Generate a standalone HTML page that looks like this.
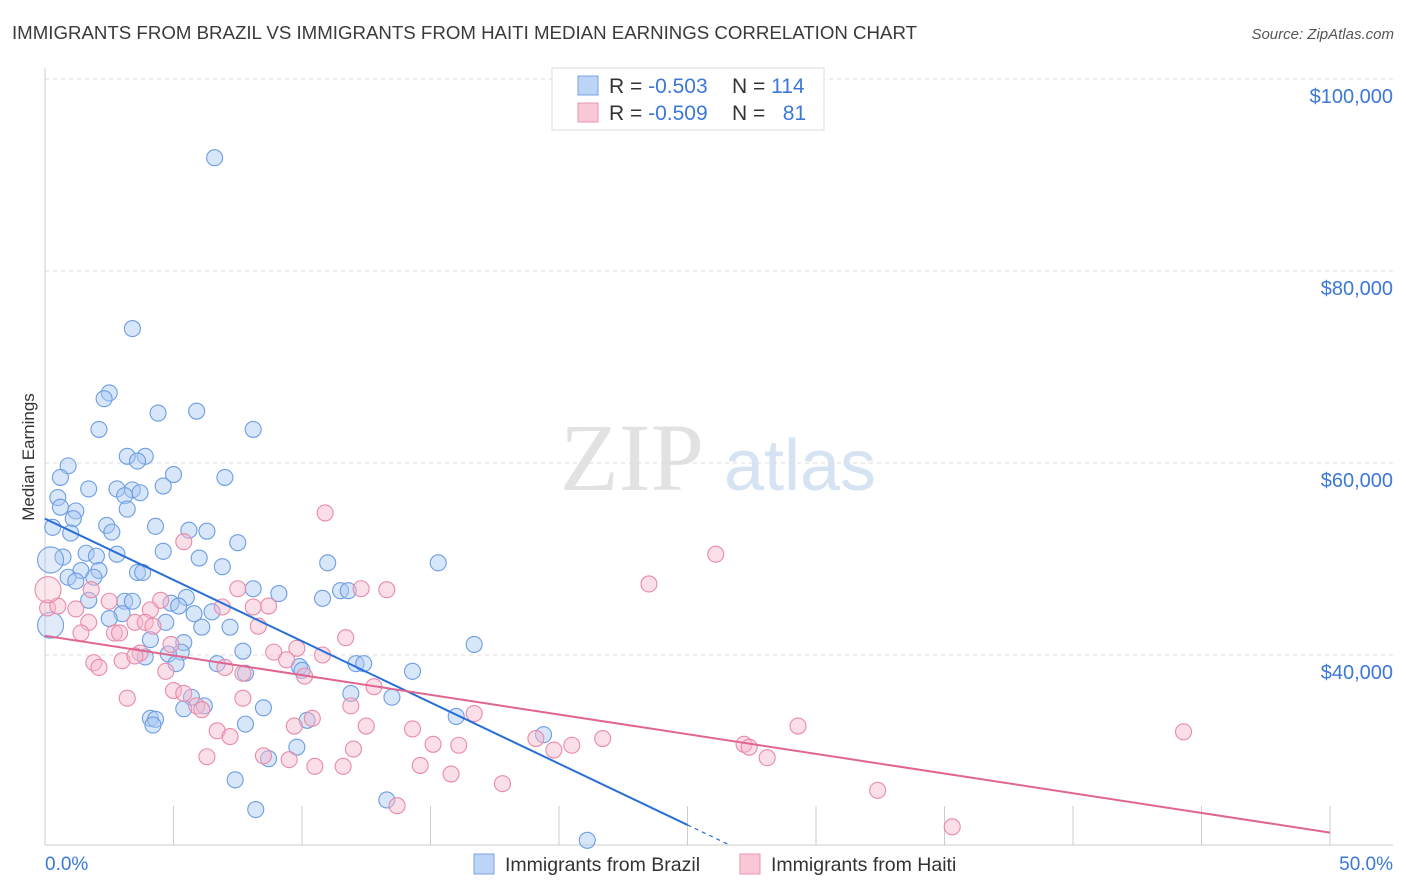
<!DOCTYPE html>
<html><head><meta charset="utf-8"><style>
body{margin:0;background:#fff;font-family:"Liberation Sans",sans-serif;}
svg{display:block}
</style></head><body>
<svg id="chart" width="1406" height="892">
<text x="12" y="39" font-size="18" fill="#3a3a3a" textLength="905" lengthAdjust="spacingAndGlyphs">IMMIGRANTS FROM BRAZIL VS IMMIGRANTS FROM HAITI MEDIAN EARNINGS CORRELATION CHART</text>
<text x="1394" y="39" font-size="15" font-style="italic" fill="#555" text-anchor="end">Source: ZipAtlas.com</text>
<text x="34" y="457" font-size="17" fill="#333" text-anchor="middle" transform="rotate(-90 34 457)">Median Earnings</text>
<g>
<text x="632" y="490" font-size="96" font-family="Liberation Serif,serif" fill="#e2e2e2" text-anchor="middle">ZIP</text>
<text x="800" y="490" font-size="72" fill="#d6e3f3" text-anchor="middle">atlas</text>
</g>
<g id="grid"></g><g id="axes"></g><g id="pts"></g><g id="trends"></g>
<g>
<rect x="552" y="68" width="272" height="62" fill="#fff" stroke="#ddd"/>
<rect x="578" y="76" width="20" height="19" fill="#bcd4f6" stroke="#7aa6e6"/>
<rect x="578" y="103" width="20" height="19" fill="#f9c8d6" stroke="#eb93ad"/>
<text x="609" y="93" font-size="21" fill="#333">R = <tspan fill="#3b78d8">-0.503</tspan></text>
<text x="732" y="93" font-size="21" fill="#333">N = <tspan fill="#3b78d8">114</tspan></text>
<text x="609" y="120" font-size="21" fill="#333">R = <tspan fill="#3b78d8">-0.509</tspan></text>
<text x="732" y="120" font-size="21" fill="#333">N = <tspan fill="#3b78d8">&#160; 81</tspan></text>
</g>
<g>
<rect x="474" y="854" width="20" height="20" fill="#bcd4f6" stroke="#7aa6e6"/>
<text x="505" y="871" font-size="19.5" fill="#333">Immigrants from Brazil</text>
<rect x="740" y="854" width="20" height="20" fill="#f9c8d6" stroke="#eb93ad"/>
<text x="771" y="871" font-size="19.5" fill="#333">Immigrants from Haiti</text>
</g>
</svg>
<script>
const yTicks=[40000,60000,80000,100000];
const yTickLabels=["$40,000","$60,000","$80,000","$100,000"];
const xTicks=[0,5,10,15,20,25,30,35,40,45,50];
const brazilX=[6.6,3.4,2.5,2.3,5.9,4.4,8.1,2.1,3.2,3.9,3.6,0.9,5.0,7.0,0.6,1.7,2.8,4.6,3.4,0.5,3.1,3.7,0.6,1.2,3.2,1.1,0.3,2.4,4.3,5.6,6.3,2.6,1.0,7.5,4.6,0.7,1.6,2.0,2.8,6.0,11.0,15.3,6.9,1.4,2.1,3.6,3.8,0.9,1.9,1.2,8.1,9.1,3.1,3.4,1.7,4.9,10.8,11.5,11.8,5.5,5.2,6.5,5.8,3.0,2.5,4.7,6.1,7.2,4.1,5.4,16.7,5.3,4.8,7.7,3.9,5.1,6.7,12.1,12.4,9.9,10.0,14.3,7.8,11.9,13.5,5.7,5.4,6.2,8.5,16.0,4.1,4.3,4.2,10.2,7.8,19.4,9.8,8.7,7.4,13.3,8.2,21.1,0.1,0.1];
const brazilY=[91.8,74.0,67.3,66.7,65.4,65.2,63.5,63.5,60.7,60.7,60.2,59.7,58.8,58.5,58.5,57.3,57.3,57.6,57.2,56.4,56.6,56.9,55.4,55.0,55.2,54.2,53.3,53.5,53.4,53.0,52.9,52.8,52.7,51.7,50.8,50.2,50.6,50.3,50.5,50.1,49.6,49.6,49.2,48.8,48.8,48.6,48.6,48.1,48.1,47.7,46.9,46.4,45.6,45.6,45.7,45.4,45.9,46.7,46.7,46.0,45.1,44.5,44.3,44.3,43.8,43.4,42.9,42.9,41.6,41.3,41.1,40.3,40.1,40.4,39.8,39.1,39.1,39.1,39.1,38.8,38.4,38.3,38.1,36.0,35.6,35.6,34.4,34.7,34.5,33.6,33.4,33.3,32.7,33.2,32.8,31.7,30.4,29.2,27.0,24.9,23.9,20.7,49.9,43.1];
const haitiX=[10.9,5.4,26.1,23.5,1.8,7.5,12.3,13.3,2.5,4.5,8.7,0.1,0.5,1.2,4.1,8.1,6.9,1.7,3.5,3.9,4.2,8.3,11.7,1.4,2.7,2.9,4.9,9.8,3.7,8.9,10.8,1.9,2.1,3.0,3.5,7.0,9.4,4.7,7.7,10.1,12.8,3.2,5.0,5.4,7.7,11.9,5.9,6.1,16.7,10.4,9.7,12.5,14.3,6.7,7.2,29.3,44.3,19.1,21.7,15.1,16.1,19.8,20.5,27.2,27.4,6.3,8.5,9.5,12.0,28.1,10.5,11.6,14.6,15.8,17.8,13.7,32.4,35.3,0.0];
const haitiY=[54.8,51.8,50.5,47.4,46.8,46.9,46.9,46.8,45.6,45.7,45.1,44.9,45.1,44.8,44.7,45.0,45.0,43.4,43.4,43.4,43.0,43.0,41.8,42.3,42.3,42.3,41.1,40.7,40.2,40.3,40.0,39.2,38.7,39.4,39.9,38.7,39.5,38.3,38.1,37.8,36.7,35.5,36.3,36.0,35.5,34.7,34.7,34.3,33.9,33.4,32.6,32.6,32.3,32.1,31.5,32.6,32.0,31.3,31.3,30.7,30.6,30.1,30.6,30.7,30.4,29.4,29.5,29.1,30.2,29.3,28.4,28.4,28.5,27.6,26.6,24.3,25.9,22.1,46.8];
const brazilTrendX=[0,25];const brazilTrendY=[54.2,22.3];
const haitiTrendX=[0,50];const haitiTrendY=[42.0,21.5];
const NS='http://www.w3.org/2000/svg';
const X0=45,X1=1330,YB=1039,PPK=9.6;
const sx=v=>X0+(v/50)*(X1-X0);
const sy=k=>YB-k*PPK;
function mk(t,a,p){const e=document.createElementNS(NS,t);for(const k in a)e.setAttribute(k,a[k]);p.appendChild(e);return e;}
const grid=document.getElementById('grid'),axes=document.getElementById('axes'),pts=document.getElementById('pts'),tr=document.getElementById('trends');
yTicks.forEach((v,i)=>{const y=sy(v/1000);
const l=mk('line',{x1:45,x2:1393,y1:y,y2:y,stroke:'#ddd','stroke-dasharray':'4,4'},grid);


const t=mk('text',{x:1393,y:y+24,'font-size':20,fill:'#3b78d8','text-anchor':'end'},axes);t.textContent=yTickLabels[i];

});
const ax=mk('line',{x1:45,x2:45,y1:68,y2:845,stroke:'#ccc'},axes);


const bx=mk('line',{x1:45,x2:1393,y1:845,y2:845,stroke:'#ccc'},axes);


xTicks.slice(1).forEach(v=>{const tk=mk('line',{x1:sx(v),x2:sx(v),y1:806,y2:845,stroke:'#ccc'},axes);

});
const xl0=mk('text',{x:45,y:870,'font-size':19,fill:'#3b78d8'},axes);xl0.textContent='0.0%';


const xl1=mk('text',{x:1393,y:870,'font-size':19,fill:'#3b78d8','text-anchor':'end'},axes);xl1.textContent='50.0%';


function dots(xs,ys,fill,stroke,name){xs.forEach((x,i)=>{const big=(x<=0.15&&(i>=xs.length-2));
const c=mk('circle',{cx:big?sx(x)+3:sx(x),cy:sy(ys[i]),r:big?13:8,fill:fill,'fill-opacity':big?0.35:0.45,stroke:stroke,'stroke-width':1.1},pts);

});}
dots(brazilX,brazilY,'#a9c7f2','#6d9de3','brazil-point');
dots(haitiX,haitiY,'#f7b9cc','#e98aa8','haiti-point');
const ba=mk('line',{x1:sx(brazilTrendX[0]),y1:sy(brazilTrendY[0]),x2:sx(brazilTrendX[1]),y2:sy(brazilTrendY[1]),stroke:'#2a6fd6','stroke-width':2},tr);


const slope=(brazilTrendY[1]-brazilTrendY[0])/(brazilTrendX[1]-brazilTrendX[0]);
const xEnd=brazilTrendX[1]+(20.2-brazilTrendY[1])/slope;
const bd=mk('line',{x1:sx(brazilTrendX[1]),y1:sy(brazilTrendY[1]),x2:sx(xEnd),y2:sy(20.2),stroke:'#2a6fd6','stroke-width':1.2,'stroke-dasharray':'4,4'},tr);


const ha=mk('line',{x1:sx(haitiTrendX[0]),y1:sy(haitiTrendY[0]),x2:sx(haitiTrendX[1]),y2:sy(haitiTrendY[1]),stroke:'#e0668f','stroke-width':2},tr);


</script>
</body></html>
